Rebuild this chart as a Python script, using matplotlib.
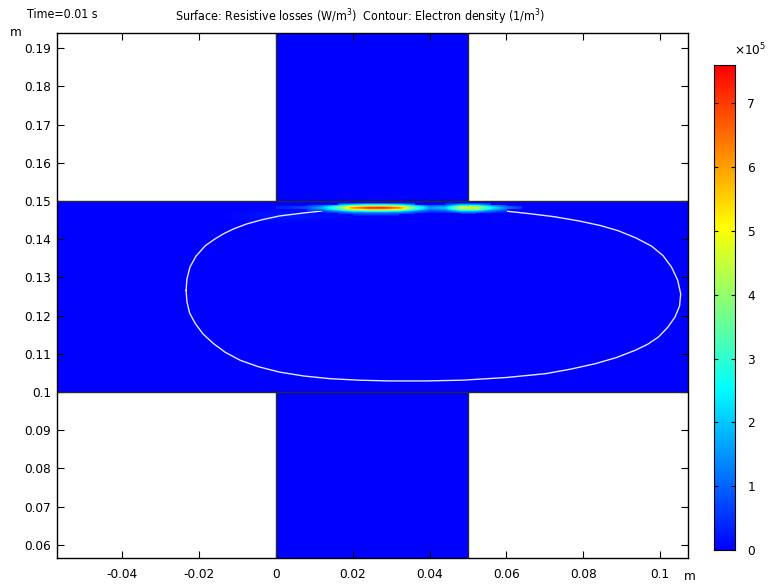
import numpy as np
import matplotlib
matplotlib.use("Agg")
import matplotlib.pyplot as plt
from matplotlib.colors import LinearSegmentedColormap, Normalize

plt.rcParams['font.family'] = ['DejaVu Sans']
plt.rcParams['font.stretch'] = 'condensed'
FS = 9.7
FS_TITLE = 8.9

# ---- data ----
x_limits = [-0.0571, 0.1073]
y_limits = [0.05655, 0.1939]
bar_x = [0.0, 0.05]     # vertical conductor
bar_y = [0.10, 0.15]    # horizontal conductor

x_ticks = [-0.04, -0.02, 0.0, 0.02, 0.04, 0.06, 0.08, 0.10]
x_ticklabels = ["-0.04", "-0.02", "0", "0.02", "0.04", "0.06", "0.08", "0.1"]
y_ticks = [0.06, 0.07, 0.08, 0.09, 0.10, 0.11, 0.12, 0.13, 0.14, 0.15, 0.16, 0.17, 0.18, 0.19]
y_ticklabels = ["0.06", "0.07", "0.08", "0.09", "0.1", "0.11", "0.12", "0.13",
                "0.14", "0.15", "0.16", "0.17", "0.18", "0.19"]

cbar_max = 7.6e5
cbar_ticks = [0, 1e5, 2e5, 3e5, 4e5, 5e5, 6e5, 7e5]
cbar_ticklabels = ["0", "1", "2", "3", "4", "5", "6", "7"]

# resistive losses hot band (values x1e5 W/m^3)
band_x = [-0.016, -0.012, -0.008, -0.004, 0.000, 0.004, 0.008, 0.012, 0.016, 0.020,
          0.024, 0.028, 0.032, 0.036, 0.040, 0.044, 0.048, 0.052, 0.056, 0.060,
          0.064, 0.068, 0.072, 0.076]
band_peak = [0.0, 0.1, 0.2, 0.3, 0.4, 0.5, 0.9, 1.9, 3.8, 6.5,
             7.5, 7.6, 6.7, 3.8, 1.7, 2.1, 5.0, 5.1, 2.7, 1.3,
             0.6, 0.3, 0.1, 0.0]
glow_peak = [0.0, 0.05, 0.12, 0.18, 0.22, 0.22, 0.18, 0.12, 0.08, 0.05,
             0.02, 0.0, 0.0, 0.0, 0.0, 0.0, 0.0, 0.0, 0.0, 0.0,
             0.0, 0.0, 0.0, 0.0]
band_y = [0.1441, 0.1445, 0.1449, 0.1453, 0.1457, 0.1461, 0.1465, 0.1469,
          0.1473, 0.1477, 0.1481, 0.1485, 0.1489, 0.1493, 0.1497]
band_profile = [0.0, 0.0, 0.0, 0.01, 0.02, 0.04, 0.09, 0.2,
                0.4, 0.74, 1.0, 0.76, 0.38, 0.13, 0.02]
glow_profile = [0.0, 0.3, 0.6, 0.9, 1.0, 1.0, 0.9, 0.7,
                0.5, 0.3, 0.2, 0.1, 0.0, 0.0, 0.0]

# electron density contour (m)
contour_x = [-0.0234, -0.0232, -0.0224, -0.0208, -0.0184, -0.0160, -0.0137,
             -0.0108, -0.0076, -0.0036, 0.0010, 0.0075, 0.0140, 0.0205, 0.0270,
             0.0335, 0.0399, 0.0464, 0.0529, 0.0594, 0.0659, 0.0724, 0.0788,
             0.0844, 0.0892, 0.0938, 0.0978, 0.1008, 0.1030, 0.1046, 0.1054,
             0.1051, 0.1039, 0.1020, 0.0996, 0.0968, 0.0935, 0.0886, 0.0831,
             0.0768, 0.0702, 0.0600, 0.0486, 0.0390, 0.0296, 0.0215, 0.0140,
             0.0072, 0.0010, -0.0045, -0.0093, -0.0132, -0.0163, -0.0190,
             -0.0210, -0.0225, -0.0232, -0.0234]
contour_y = [0.1266, 0.1295, 0.1327, 0.1356, 0.1383, 0.1400, 0.1414,
             0.1428, 0.1440, 0.1451, 0.1461, 0.1469, 0.1476, 0.1480, 0.1483,
             0.1485, 0.1485, 0.1483, 0.1479, 0.1474, 0.1467, 0.1459, 0.1448,
             0.1436, 0.1422, 0.1403, 0.1382, 0.1357, 0.1327, 0.1293, 0.1257,
             0.1225, 0.1196, 0.1169, 0.1144, 0.1125, 0.1109, 0.1090, 0.1074,
             0.1060, 0.1048, 0.1038, 0.1031, 0.1029, 0.1029, 0.1031, 0.1035,
             0.1042, 0.1052, 0.1066, 0.1083, 0.1104, 0.1127, 0.1152,
             0.1179, 0.1207, 0.1237, 0.1266]

# ---- colormap ----
cmap = LinearSegmentedColormap.from_list(
    "comsol_rainbow",
    [(0.0, (0.0, 0.0, 1.0)), (1/3, (0.0, 1.0, 1.0)),
     (2/3, (1.0, 1.0, 0.0)), (1.0, (1.0, 0.0, 0.0))])
cmap_band = cmap.copy()
cmap_band.set_bad((0, 0, 0, 0))
norm = Normalize(vmin=0, vmax=cbar_max)
base = cmap(0.0)

fig = plt.figure(figsize=(7.69, 5.84), dpi=100)
ax = fig.add_axes([56.7/769, 26/584, 631.3/769, 524.7/584])
ax.set_facecolor("white")

ax.axhspan(bar_y[0], bar_y[1], color=base, lw=0, zorder=1)
ax.axvspan(bar_x[0], bar_x[1], color=base, lw=0, zorder=1)

dx = (band_x[1] - band_x[0]) / 2
dy = (band_y[1] - band_y[0]) / 2
ext = [band_x[0] - dx, band_x[-1] + dx, band_y[0] - dy, band_y[-1] + dy]

glow = np.outer(glow_profile, glow_peak) * 1e5
ax.imshow(glow, origin="lower", cmap=cmap, norm=norm, aspect="auto", extent=ext,
          interpolation="bicubic", interpolation_stage="data", zorder=2)

ax.plot(contour_x, contour_y, color="#e6e6ff", lw=1.0, zorder=4)

band = np.ma.masked_less(np.outer(band_profile, band_peak) * 1e5, 0.25e5)
ax.imshow(band, origin="lower", cmap=cmap_band, norm=norm, aspect="auto", extent=ext,
          interpolation="bilinear", interpolation_stage="data", zorder=5)

# geometry edges
edge_c = "#2a2a2a"
for yv in bar_y:
    ax.axhline(yv, color=edge_c, lw=1.0, zorder=6)
for xv in bar_x:
    ax.plot([xv, xv], [bar_y[1], y_limits[1]], color=edge_c, lw=1.0, zorder=6)
    ax.plot([xv, xv], [y_limits[0], bar_y[0]], color=edge_c, lw=1.0, zorder=6)

ax.set_xlim(x_limits)
ax.set_ylim(y_limits)
ax.set_xticks(x_ticks)
ax.set_xticklabels(x_ticklabels)
ax.set_yticks(y_ticks)
ax.set_yticklabels(y_ticklabels)
ax.tick_params(direction="in", length=5, width=0.8, top=True, right=True,
               labelsize=FS, colors="black")
ax.tick_params(axis="x", pad=7)
ax.tick_params(axis="y", pad=4)
for s in ax.spines.values():
    s.set_linewidth(1.0)
    s.set_zorder(7)

fig.text(10/769, 1 - 33/584, "m", fontsize=FS, ha="left", va="center")
fig.text(684/769, 1 - 576/584, "m", fontsize=FS, ha="left", va="center")
fig.text(27/769, 1 - 15/584, "Time=0.01 s", fontsize=FS_TITLE, ha="left", va="center")
fig.text(360/769, 1 - 17/584,
         "Surface: Resistive losses (W/m$^3$)  Contour: Electron density (1/m$^3$)",
         fontsize=FS_TITLE, ha="center", va="center")

# colorbar
cax = fig.add_axes([714/769, 34/584, 21/769, 485/584])
grad = np.linspace(0, cbar_max, 256).reshape(-1, 1)
cax.imshow(grad, origin="lower", cmap=cmap, norm=norm, aspect="auto",
           extent=[0, 1, 0, cbar_max])
cax.set_xlim(0, 1)
cax.set_ylim(0, cbar_max)
cax.set_xticks([])
cax.yaxis.tick_right()
cax.set_yticks(cbar_ticks)
cax.set_yticklabels(cbar_ticklabels)
cax.tick_params(axis="y", direction="in", length=3, left=True, right=True,
                labelsize=FS, pad=9)
fig.text(734/769, 1 - 50/584, "×10$^5$", fontsize=FS, ha="left", va="center")

fig.savefig("out.png", dpi=100)
